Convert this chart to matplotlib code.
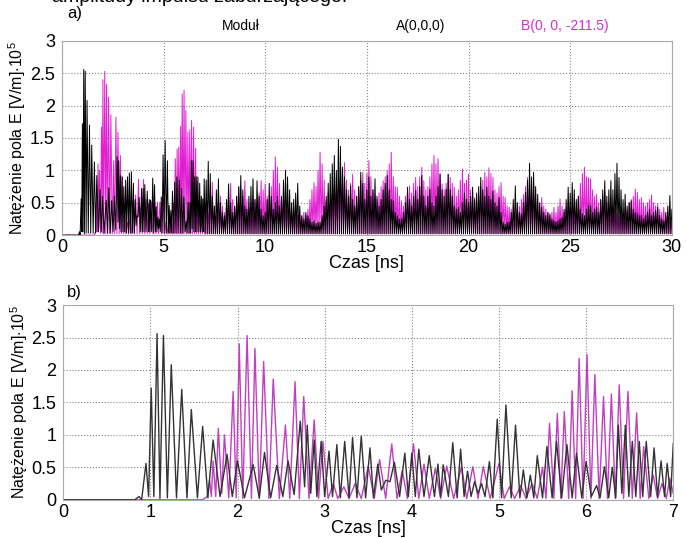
import numpy as np
import matplotlib.pyplot as plt

plt.rcParams['font.family'] = ['Liberation Sans', 'DejaVu Sans']
plt.rcParams['mathtext.fontset'] = 'custom'
plt.rcParams['mathtext.rm'] = 'Liberation Sans'

# --- b) 0-7 ns, odczyt szczytów i minimów (czas [ns], wartość [V/m]*1e5) ---
bot_black_t = [0, 0.82, 0.87, 0.9, 0.95, 0.98, 1.01, 1.04, 1.077, 1.11, 1.15, 1.195,
               1.24, 1.30, 1.36, 1.42, 1.47, 1.54, 1.60, 1.66, 1.72, 1.80, 1.88, 1.94,
               2.0, 2.08, 2.18, 2.25, 2.31, 2.38, 2.45, 2.52, 2.58, 2.65, 2.72, 2.77,
               2.80, 2.84, 2.88, 2.91, 2.96, 3.0, 3.05, 3.09, 3.14, 3.18, 3.23, 3.28,
               3.32, 3.37, 3.42, 3.47, 3.52, 3.56, 3.61, 3.65, 3.70, 3.75, 3.80, 3.86,
               3.92, 3.96, 4.0, 4.04, 4.08, 4.14, 4.20, 4.26, 4.30, 4.33, 4.36, 4.42,
               4.47, 4.52, 4.56, 4.60, 4.64, 4.68, 4.72, 4.76, 4.80, 4.84, 4.89, 4.93,
               4.98, 5.03, 5.08, 5.14, 5.19, 5.24, 5.28, 5.32, 5.36, 5.40, 5.44, 5.50,
               5.55, 5.61, 5.66, 5.72, 5.78, 5.84, 5.89, 5.95, 6.0, 6.06, 6.12, 6.16,
               6.21, 6.26, 6.30, 6.34, 6.37, 6.41, 6.45, 6.49, 6.53, 6.57, 6.61, 6.65,
               6.69, 6.74, 6.78, 6.82, 6.86, 6.90, 6.93, 6.97, 7.0]
bot_black_v = [0, 0, 0.05, 0, 0.56, 0.05, 1.72, 0.05, 2.56, 0.02, 2.53, 0.03,
               2.08, 0.03, 1.70, 0.03, 1.39, 0.03, 1.13, 0.03, 0.92, 0.05, 0.70, 0.05,
               0.60, 0.03, 0.54, 0.03, 0.73, 0.03, 0.53, 0.05, 0.60, 0.08, 1.21, 0.20,
               1.15, 0.10, 0.92, 0.05, 0.90, 0.05, 0.75, 0.05, 0.85, 0.03, 0.90, 0.03,
               0.96, 0.03, 0.98, 0.03, 0.80, 0.03, 0.55, 0.15, 0.30, 0.28, 0.58, 0.05,
               0.72, 0.05, 0.72, 0.05, 0.78, 0.05, 0.68, 0.05, 0.55, 0.05, 0.54, 0.05,
               0.88, 0.03, 0.78, 0.05, 0.44, 0.05, 0.28, 0.10, 0.25, 0.05, 0.59, 0.03,
               1.24, 0.03, 1.46, 0.03, 1.15, 0.03, 0.46, 0.03, 0.38, 0.03, 0.68, 0.03,
               0.82, 0.03, 0.90, 0.03, 0.85, 0.03, 0.72, 0.03, 0.59, 0.05, 0.22, 0.03,
               0.51, 0.03, 0.50, 0.03, 1.15, 0.10, 1.15, 0.05, 0.90, 0.05, 0.90, 0.05,
               0.90, 0.05, 0.80, 0.05, 0.60, 0.05, 0.56, 0.05, 0.87]

bot_mag_t = [0, 1.6, 1.65, 1.68, 1.70, 1.72, 1.75, 1.78, 1.82, 1.85, 1.90, 1.95,
             1.985, 2.02, 2.06, 2.11, 2.16, 2.20, 2.25, 2.30, 2.36, 2.41, 2.48, 2.55,
             2.60, 2.66, 2.71, 2.76, 2.82, 2.88, 2.93, 2.98, 3.04, 3.10, 3.15, 3.22,
             3.28, 3.35, 3.42, 3.50, 3.57, 3.63, 3.70, 3.77, 3.83, 3.89, 3.95, 4.02,
             4.08, 4.14, 4.20, 4.27, 4.33, 4.40, 4.48, 4.57, 4.63, 4.70, 4.76, 4.82,
             4.90, 5.0, 5.06, 5.12, 5.18, 5.25, 5.31, 5.38, 5.44, 5.50, 5.54, 5.58,
             5.63, 5.67, 5.71, 5.75, 5.80, 5.84, 5.88, 5.92, 5.965, 6.01, 6.055, 6.10,
             6.15, 6.20, 6.245, 6.29, 6.335, 6.38, 6.43, 6.48, 6.53, 6.58, 6.62, 6.66,
             6.72, 6.77, 6.82, 6.87, 6.92, 6.96, 7.0]
bot_mag_v = [0, 0, 0.05, 0.30, 0.05, 0.60, 0.05, 1.10, 0.10, 1.00, 0.03, 1.67,
             0.03, 2.40, 0.02, 2.53, 0.02, 2.33, 0.02, 2.13, 0.02, 1.86, 0.02, 1.15,
             0.02, 1.82, 0.02, 1.59, 0.02, 1.23, 0.02, 0.90, 0.02, 0.25, 0.02, 0.20,
             0.02, 0.25, 0.02, 0.52, 0.02, 0.62, 0.02, 0.86, 0.02, 0.45, 0.02, 0.86,
             0.02, 0.55, 0.02, 0.48, 0.02, 0.52, 0.02, 0.51, 0.02, 0.51, 0.02, 0.51,
             0.02, 0.56, 0.02, 0.20, 0.02, 0.22, 0.02, 0.25, 0.02, 0.50, 0.02, 1.18,
             0.02, 1.33, 0.02, 1.36, 0.02, 1.68, 0.02, 2.18, 0.02, 2.24, 0.02, 1.93,
             0.02, 1.59, 0.02, 1.63, 0.02, 1.77, 0.02, 1.67, 0.02, 1.34, 0.02, 0.82,
             0.02, 0.38, 0.02, 0.25, 0.02, 0.33, 0.10]

# --- a) 7.1-30 ns, szczyty co 0.1 ns ---
top_black_pk = [
    0.85, 1.14, 0.95, 0.60, 0.45, 0.70, 0.87, 0.50, 0.35,
    0.30, 0.55, 0.79, 0.50, 0.35, 0.45, 0.60, 0.75, 0.92, 0.70,
    0.45, 0.40, 0.60, 0.75, 0.87, 0.55, 0.84, 0.60, 0.40, 0.30,
    0.35, 0.55, 0.80, 0.60, 0.40, 0.50, 0.60, 0.45, 0.60, 0.85,
    1.00, 0.90, 0.70, 0.50, 0.55, 0.65, 0.80, 0.45, 0.30, 0.25,
    0.35, 0.30, 0.25, 0.20, 0.22, 0.18, 0.20, 0.20, 0.30, 0.45,
    0.60, 0.80, 0.95, 1.10, 1.23, 1.00, 1.48, 1.37, 1.05, 0.90,
    0.70, 0.60, 0.76, 0.55, 0.45, 0.60, 0.75, 0.97, 0.80, 0.55,
    0.70, 0.90, 0.60, 0.70, 0.87, 0.60, 0.45, 0.55, 0.70, 0.80,
    0.92, 0.70, 0.55, 0.53, 0.35, 0.30, 0.25, 0.25, 0.35, 0.50,
    0.74, 0.55, 0.45, 0.60, 0.69, 0.55, 0.75, 0.92, 0.60, 0.45,
    0.60, 0.71, 0.50, 0.45, 0.60, 0.75, 0.94, 0.70, 0.60, 0.71,
    0.94, 0.70, 0.60, 0.45, 0.40, 0.43, 0.35, 0.50, 0.65, 0.55,
    0.50, 0.60, 0.74, 0.55, 0.65, 0.75, 0.89, 0.70, 0.60, 0.74,
    0.60, 0.55, 0.68, 0.50, 0.45, 0.58, 0.35, 0.20, 0.17, 0.20,
    0.20, 0.35, 0.55, 0.76, 0.50, 0.35, 0.33, 0.50, 0.66, 0.85,
    1.11, 0.90, 0.97, 0.75, 0.63, 0.50, 0.43, 0.35, 0.30, 0.35,
    0.33, 0.25, 0.22, 0.20, 0.22, 0.25, 0.27, 0.40, 0.55, 0.74,
    0.65, 0.81, 0.70, 0.55, 0.60, 0.40, 0.33, 0.30, 0.40, 0.45,
    0.45, 0.35, 0.40, 0.43, 0.35, 0.55, 0.70, 0.84, 0.60, 0.70,
    0.84, 0.70, 0.95, 1.11, 0.89, 0.70, 0.55, 0.63, 0.45, 0.50,
    0.53, 0.40, 0.35, 0.33, 0.30, 0.30, 0.25, 0.30, 0.35, 0.40,
    0.30, 0.35, 0.38, 0.43, 0.30, 0.25, 0.22, 0.35, 0.45, 0.61, 0.40]
top_mag_pk = [
    0.50, 0.35, 0.60, 0.82, 0.45, 0.30, 0.50, 0.60, 0.45,
    0.35, 0.50, 0.65, 0.80, 0.55, 0.40, 0.60, 0.74, 0.50, 0.60,
    0.84, 0.55, 0.40, 0.35, 0.45, 0.55, 0.50, 0.65, 0.84, 0.70,
    0.79, 0.60, 0.55, 0.75, 1.00, 1.21, 1.05, 0.80, 0.55, 0.45,
    0.40, 0.45, 0.35, 0.40, 0.30, 0.35, 0.30, 0.25, 0.30, 0.35,
    0.30, 0.40, 0.55, 0.70, 0.81, 0.75, 1.00, 1.28, 1.10, 0.85,
    0.53, 0.65, 0.50, 0.60, 0.79, 0.65, 0.75, 0.90, 1.00, 1.12,
    0.85, 0.70, 0.80, 0.94, 0.70, 0.60, 0.75, 0.85, 0.97, 0.80,
    0.95, 1.15, 0.90, 0.70, 0.60, 0.55, 0.65, 0.75, 0.84, 0.90,
    1.00, 1.10, 1.28, 0.90, 0.75, 0.74, 0.60, 0.53, 0.45, 0.60,
    0.70, 0.76, 0.65, 0.80, 0.89, 0.75, 0.90, 1.05, 0.84, 0.70,
    0.75, 0.90, 1.10, 1.23, 1.10, 1.18, 0.95, 0.79, 0.70, 0.80,
    0.94, 0.89, 0.80, 0.74, 0.60, 0.70, 0.85, 1.02, 0.80, 0.85,
    0.94, 0.70, 0.60, 0.58, 0.50, 0.60, 0.75, 0.85, 0.97, 0.90,
    1.04, 0.95, 0.89, 0.70, 0.65, 0.75, 0.81, 0.60, 0.58, 0.45,
    0.43, 0.40, 0.35, 0.30, 0.35, 0.45, 0.55, 0.63, 0.75, 0.89,
    0.70, 0.60, 0.79, 0.55, 0.50, 0.45, 0.58, 0.45, 0.40, 0.35,
    0.30, 0.35, 0.43, 0.35, 0.45, 0.56, 0.45, 0.35, 0.40, 0.50,
    0.45, 0.40, 0.35, 0.45, 0.60, 0.80, 0.95, 1.05, 0.90, 0.89,
    0.87, 0.70, 0.60, 0.63, 0.50, 0.55, 0.60, 0.66, 0.50, 0.45,
    0.58, 0.45, 0.40, 0.35, 0.30, 0.35, 0.30, 0.35, 0.40, 0.50,
    0.55, 0.60, 0.71, 0.66, 0.55, 0.58, 0.50, 0.45, 0.50, 0.55,
    0.62, 0.50, 0.45, 0.48, 0.40, 0.35, 0.43, 0.30, 0.28, 0.27, 0.20]
trough = 0.02  # moduł spada prawie do zera między szczytami

t_pk = 7.1 + 0.1 * np.arange(len(top_black_pk))


def zigzag(peaks):
    v = np.column_stack([np.full(len(peaks), trough), peaks]).ravel()
    t = np.column_stack([t_pk - 0.05, t_pk]).ravel()
    return t, v


tb, vb = zigzag(top_black_pk)
tm, vm = zigzag(top_mag_pk)
top_black_t = np.concatenate([bot_black_t, tb])
top_black_v = np.concatenate([bot_black_v, vb])
top_mag_t = np.concatenate([bot_mag_t, tm])
top_mag_v = np.concatenate([bot_mag_v, vm])

ylab = r'Natężenie pola E [V/m]$\cdot$10$^{5}$'
fig = plt.figure(figsize=(6.87, 5.38), dpi=100)
ax1 = fig.add_axes([0.090, 0.563, 0.888, 0.361])
ax2 = fig.add_axes([0.092, 0.071, 0.888, 0.362])


def style(ax, xmax, xstep):
    ax.set_xlim(0, xmax)
    ax.set_ylim(0, 3)
    ax.set_xticks(np.arange(0, xmax + 0.1, xstep))
    ax.set_yticks(np.arange(0, 3.01, 0.5))
    ax.set_yticklabels(['0', '0.5', '1', '1.5', '2', '2.5', '3'])
    ax.tick_params(length=0, labelsize=13)
    ax.tick_params(axis='y', pad=5)
    ax.tick_params(axis='x', pad=3)
    ax.grid(True, linestyle=':', color='#888888', linewidth=0.8)
    for s in ax.spines.values():
        s.set_color('#aaaaaa')
    ax.set_xlabel('Czas [ns]', fontsize=13, labelpad=-1)
    ax.set_ylabel(ylab, fontsize=11.5, labelpad=1)


ax1.plot(top_mag_t, top_mag_v, color='#e020d0', linewidth=0.7)
ax1.plot(top_black_t, top_black_v, color='#000000', linewidth=0.7)
style(ax1, 30, 5)

ax2.plot(bot_mag_t, bot_mag_v, color='#c040c0', linewidth=1.0)
ax2.plot(bot_black_t, bot_black_v, color='#333333', linewidth=1.0)
style(ax2, 7, 1)

fig.text(0.075, 1.005, 'amplitudy impulsu zaburzającego.', fontsize=14, va='center')
fig.text(0.098, 0.975, 'a)', fontsize=12, va='center')
fig.text(0.098, 0.457, 'b)', fontsize=12, va='center')
fig.text(0.35, 0.952, 'Moduł', fontsize=10, ha='center', va='center')
fig.text(0.612, 0.952, 'A(0,0,0)', fontsize=10, ha='center', va='center')
fig.text(0.822, 0.952, 'B(0, 0, -211.5)', fontsize=10, ha='center', va='center',
         color='#cc33cc')

plt.savefig('out.png', dpi=100)
